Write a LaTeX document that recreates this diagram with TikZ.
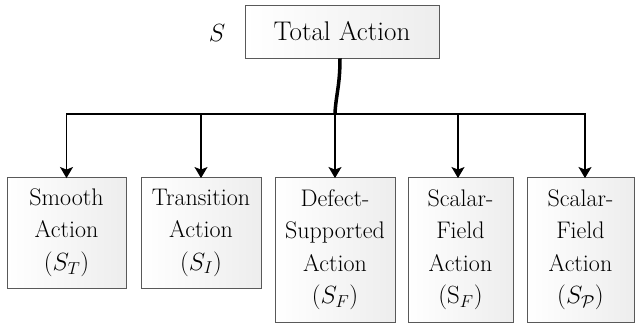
\documentclass[tikz,border=0pt]{standalone}
\usetikzlibrary{arrows.meta}
\begin{document}
\begin{tikzpicture}[x=1pt,y=-1pt,
  box/.style={draw=black!65, line width=0.9pt, left color=white, right color=black!7,
    align=center, inner sep=0pt, font=\fontsize{24}{32.5}\selectfont},
  link/.style={line width=1.3pt, -{Stealth[length=11pt,width=13pt,inset=2.5pt]}},
  trunk/.style={line width=3.5pt}]
\useasboundingbox (0,0) rectangle (636,324);
\node[box, minimum width=194pt, minimum height=53pt, font=\fontsize{27}{32}\selectfont] (top) at (342,31.5) {Total Action};
\node[font=\fontsize{34}{36}\selectfont] (slab) at (217,33) {$S$};
\node[box, minimum width=119pt, minimum height=111pt] (b1) at (66.5,232.5) {Smooth\\Action\\$(S_T)$};
\node[box, minimum width=120pt, minimum height=111pt] (b2) at (201,232.5) {Transition\\Action\\$(S_I)$};
\node[box, minimum width=120pt, minimum height=145pt] (b3) at (335,249.5) {Defect-\\Supported\\Action\\$(S_F)$};
\node[box, minimum width=105pt, minimum height=145pt] (b4) at (460.5,249.5) {Scalar-\\Field\\Action\\$(\mathrm{S}_F)$};
\node[box, minimum width=107pt, minimum height=145pt] (b5) at (580.5,249.5) {Scalar-\\Field\\Action\\$(S_{\mathcal{P}})$};
\coordinate (j) at (335,114);
\draw[trunk] (top.south -| 340,0) .. controls (340,85) and (336,95) .. ([yshift=1pt]j);
\draw[link] (j) -| ([yshift=-1.5pt]b1.north);
\draw[link] (j) -| ([yshift=-1.5pt]b2.north);
\draw[link] (j) -- ([yshift=-1.5pt]b3.north);
\draw[link] (j) -| ([xshift=-2.5pt,yshift=-1.5pt]b4.north);
\draw[link] (j) -| ([xshift=4.5pt,yshift=-1.5pt]b5.north);
\end{tikzpicture}
\end{document}
